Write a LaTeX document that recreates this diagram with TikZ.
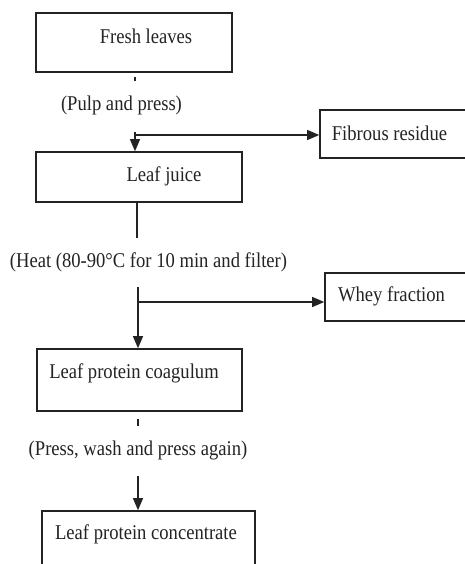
\documentclass[tikz,border=0pt]{standalone}
\usepackage{fontspec}
\setmainfont{Liberation Serif}[FakeStretch=0.886]
\usepackage{tikz}
\usetikzlibrary{arrows.meta}
\definecolor{ink}{RGB}{35,35,35}
\tikzset{
  box/.style={draw=ink, rectangle, line width=1.6pt, inner sep=0pt},
  link/.style={draw=ink, line width=1.2pt},
  arrow/.style={-{Triangle[length=12pt,width=10pt]}},
  step label/.style={text=ink, inner sep=0pt}
}

\begin{document}
\begin{tikzpicture}[x=1pt, y=-1pt, font=\fontsize{21pt}{25pt}\selectfont, text=ink]
		\useasboundingbox (0,0) rectangle (465,564);
		\clip (0,0) rectangle (465,564);
		% boxes
		\node[box, minimum width=196pt, minimum height=59pt,
		  label={[step label, xshift=12pt, yshift=6.5pt]center:Fresh leaves}] (fresh) at (134,42.5) {};
		\node[box, minimum width=206pt, minimum height=50pt,
		  label={[step label, xshift=25pt, yshift=1pt]center:Leaf juice}] (juice) at (139,177) {};
		\node[box, minimum width=160pt, minimum height=48pt,
		  label={[step label, xshift=-10.5pt, yshift=1pt]center:Fibrous residue}] (fibrous) at (400,134) {};
		\node[box, minimum width=160pt, minimum height=48pt,
		  label={[step label, xshift=-13.5pt, yshift=1pt]center:Whey fraction}] (whey) at (405,297) {};
		\node[box, minimum width=205pt, minimum height=62pt,
		  label={[step label, xshift=-5.5pt, yshift=7pt]center:Leaf protein coagulum}] (coag) at (139.5,380) {};
		\node[box, minimum width=213pt, minimum height=60pt,
		  label={[step label, xshift=-2.5pt, yshift=7pt]center:Leaf protein concentrate}] (conc) at (148.5,541) {};
		% steps
		\node[step label] (pulp) at (121.5,105) {(Pulp and press)};
		\node[step label] (heat) at (148.5,262) {(Heat (80-90°C for 10 min and filter)};
		\node[step label] (press) at (138,450) {(Press, wash and press again)};
		% branch points
		\coordinate (j1) at (135,135);
		\coordinate (j2) at (138,302);
		% connectors
		\draw[link] ([yshift=-4pt]fresh.south -| j1) -- ([yshift=-8pt]fresh.south -| j1);
		\draw[link, arrow] ([yshift=3pt]j1) -- (juice.north -| j1);
		\draw[link, arrow] (j1) -- (fibrous.west |- j1);
		\draw[link] ([xshift=-2pt]juice.south) -- ([xshift=-2pt, yshift=-35pt]juice.south);
		\draw[link, arrow] ([yshift=15pt]j2) -- (coag.north -| j2);
		\draw[link, arrow] (j2) -- (whey.west |- j2);
		\draw[link] ([yshift=-7pt]coag.south -| j2) -- ([yshift=-14pt]coag.south -| j2);
		\draw[link, arrow] ([yshift=34pt]conc.north -| j2) -- (conc.north -| j2);
	\end{tikzpicture}
\end{document}
